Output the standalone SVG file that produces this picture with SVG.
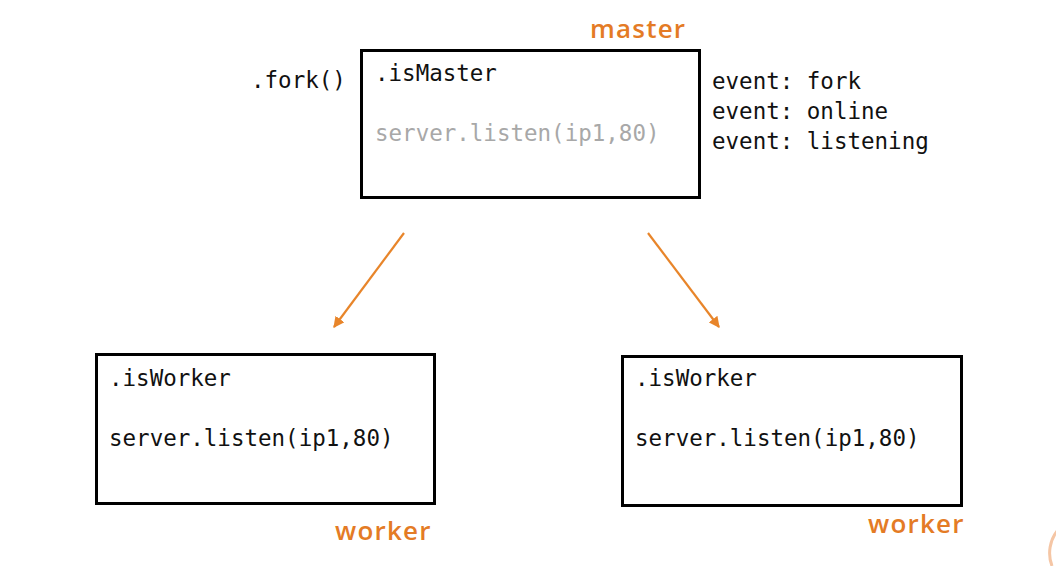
<svg xmlns="http://www.w3.org/2000/svg" width="1056" height="566" viewBox="0 0 1056 566">
<style>
.box{fill:#fff;stroke:#000;stroke-width:3}
.code{font-family:"DejaVu Sans Mono","Liberation Mono",monospace;font-size:22.5px;fill:#111}
.grey{fill:#a8a8a8}
.lbl{font-family:"Open Sans","DejaVu Sans",sans-serif;font-size:26px;font-weight:600;letter-spacing:1.2px;fill:#E47B25}
.arr{stroke:#E8852A;stroke-width:2.2;fill:none}
</style>
<defs>
<marker id="ah" viewBox="0 0 10 10" refX="9" refY="5" markerWidth="5" markerHeight="5" orient="auto" markerUnits="strokeWidth">
<path d="M0,0 L10,5 L0,10 z" fill="#E8852A"/>
</marker>
</defs>
<rect width="1056" height="566" fill="#fff"/>
<g id="master">
<rect class="box" x="361.5" y="50.5" width="338" height="147"/>
<text class="code" x="375" y="81">.isMaster</text>
<text class="code grey" x="375" y="141">server.listen(ip1,80)</text>
<text class="lbl" x="590" y="38">master</text>
<text class="code" x="251" y="88">.fork()</text>
<text class="code" x="712" y="89">event: fork</text>
<text class="code" x="712" y="119">event: online</text>
<text class="code" x="712" y="149">event: listening</text>
</g>
<g id="worker1">
<rect class="box" x="96.5" y="354.5" width="338" height="149"/>
<text class="code" x="109" y="386">.isWorker</text>
<text class="code" x="109" y="446">server.listen(ip1,80)</text>
<text class="lbl" x="335" y="540">worker</text>
</g>
<g id="worker2">
<rect class="box" x="622.5" y="356.5" width="339" height="149"/>
<text class="code" x="635" y="386">.isWorker</text>
<text class="code" x="635" y="446">server.listen(ip1,80)</text>
<text class="lbl" x="868" y="533">worker</text>
</g>
<g id="connectors">
<line class="arr" x1="404" y1="233" x2="334" y2="327" marker-end="url(#ah)"/>
<line class="arr" x1="648" y1="233" x2="719" y2="327" marker-end="url(#ah)"/>
</g>
<path d="M1058,530 A36,36 0 0 0 1052,566" fill="none" stroke="#F5C6A5" stroke-width="3"/>
</svg>
